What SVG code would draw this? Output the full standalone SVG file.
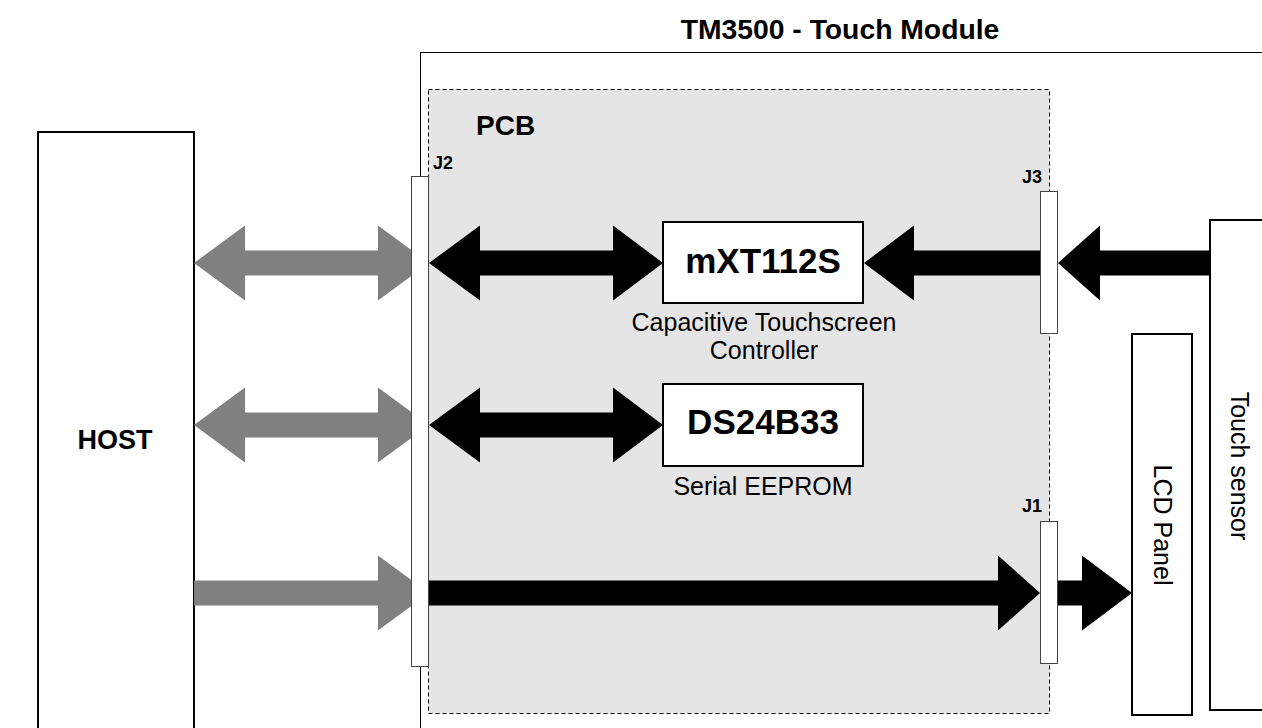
<svg xmlns="http://www.w3.org/2000/svg" width="1262" height="728" viewBox="0 0 1262 728">
<style>
text{font-family:"Liberation Sans",Arial,Helvetica,sans-serif;fill:#000}
.b{font-weight:bold}
.box{fill:#fff;stroke:#000;stroke-width:2}
.conn{fill:#fff;stroke:#444;stroke-width:1}
.gray{fill:#808080}
.blk{fill:#000}
.cap{font-size:25px;text-anchor:middle}
.chip{font-size:35px;font-weight:bold;text-anchor:middle}
.jl{font-size:18px;font-weight:bold}
</style>
<rect width="1262" height="728" fill="#fff"/>
<g id="tm3500">
<rect x="420.5" y="52.5" width="900" height="700" fill="none" stroke="#000" stroke-width="1"/>
<text x="840" y="39" class="b" font-size="28.3" text-anchor="middle">TM3500 - Touch Module</text>
</g>
<g id="pcb">
<rect x="428.5" y="89.5" width="621" height="624" fill="#e5e5e5" stroke="#000" stroke-width="1" stroke-dasharray="4,3"/>
<text x="476" y="135" class="b" font-size="28">PCB</text>
</g>
<g id="host">
<rect x="38" y="132" width="156" height="620" class="box"/>
<text x="115" y="449" class="b" font-size="27" text-anchor="middle">HOST</text>
</g>
<g id="lcd">
<rect x="1132" y="334" width="60" height="381" class="box"/>
<text class="cap" transform="translate(1154,525) rotate(90)">LCD Panel</text>
</g>
<g id="touch">
<rect x="1210" y="220" width="80" height="490" class="box"/>
<text class="cap" transform="translate(1231,466) rotate(90)">Touch sensor</text>
</g>
<g id="connectors">
<polygon class="gray" points="194,263 245,225.5 245,250.5 378,250.5 378,225.5 429,263 378,300.5 378,275.5 245,275.5 245,300.5"/>
<polygon class="gray" points="194,425 245,387.5 245,412.5 378,412.5 378,387.5 429,425 378,462.5 378,437.5 245,437.5 245,462.5"/>
<polygon class="gray" points="194,580.5 378,580.5 378,555.5 429,593 378,630.5 378,605.5 194,605.5"/>
<polygon class="blk" points="429,263 480,225.5 480,250.5 613,250.5 613,225.5 663,263 613,300.5 613,275.5 480,275.5 480,300.5"/>
<polygon class="blk" points="429,425 480,387.5 480,412.5 613,412.5 613,387.5 663,425 613,462.5 613,437.5 480,437.5 480,462.5"/>
<polygon class="blk" points="1041,250.5 914,250.5 914,225.5 864,263 914,300.5 914,275.5 1041,275.5"/>
<polygon class="blk" points="1210,250.5 1100,250.5 1100,225.5 1058,263 1100,300.5 1100,275.5 1210,275.5"/>
<polygon class="blk" points="429,580.5 998,580.5 998,555.5 1040,593 998,630.5 998,605.5 429,605.5"/>
<polygon class="blk" points="1058,580.5 1082,580.5 1082,555.5 1132,593 1082,630.5 1082,605.5 1058,605.5"/>
</g>
<g id="mxt112s">
<rect x="663" y="222" width="200" height="81" class="box"/>
<text x="763" y="273" class="chip">mXT112S</text>
<text x="764" y="331" class="cap">Capacitive Touchscreen</text>
<text x="764" y="359" class="cap">Controller</text>
</g>
<g id="ds24b33">
<rect x="663" y="384" width="200" height="82" class="box"/>
<text x="763" y="434" class="chip">DS24B33</text>
<text x="763" y="495" class="cap">Serial EEPROM</text>
</g>
<g id="j2">
<rect x="411.5" y="176.5" width="17" height="490" class="conn"/>
<text x="433" y="169" class="jl">J2</text>
</g>
<g id="j3">
<rect x="1040.5" y="191.5" width="17" height="142" class="conn"/>
<text x="1022" y="183" class="jl">J3</text>
</g>
<g id="j1">
<rect x="1040.5" y="521.5" width="17" height="142" class="conn"/>
<text x="1022" y="512" class="jl">J1</text>
</g>
</svg>
